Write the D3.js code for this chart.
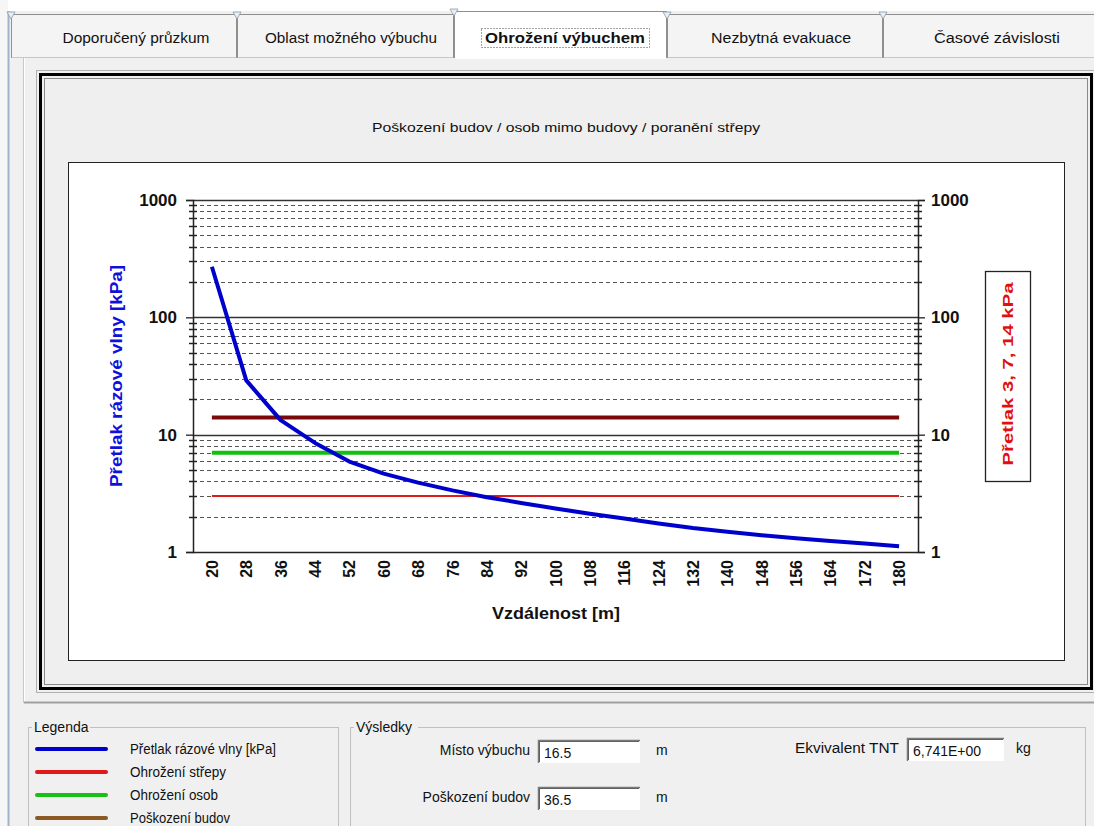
<!DOCTYPE html>
<html>
<head>
<meta charset="utf-8">
<script src="https://cdn.jsdelivr.net/npm/d3@7"></script>
<style>
  html, body { margin: 0; padding: 0; background: #f0f0f0; }
  svg { display: block; }
  .ui { font-family: "Liberation Sans", Arial, sans-serif; font-size: 14px; }
  .ax { font-family: "Liberation Sans", Arial, sans-serif; font-weight: bold; }
</style>
</head>
<body>
<svg id="chart" width="1094" height="826"></svg>
<script>
// ---------- data ----------
const distances = [20, 28, 36, 44, 52, 60, 68, 76, 84, 92, 100, 108, 116, 124, 132, 140, 148, 156, 164, 172, 180];
const overpressure = [270, 29, 13.3, 8.5, 5.9, 4.65, 3.9, 3.35, 2.93, 2.62, 2.35, 2.12, 1.93, 1.75, 1.60, 1.49, 1.39, 1.31, 1.24, 1.18, 1.12];
const thresholdValues = [3, 7, 14];
const thresholdNames = ["Ohrožení střepy", "Ohrožení osob", "Poškození budov"];
const yMajorTicks = [1, 10, 100, 1000];
const yMinorTicks = [2,3,4,5,6,7,8,9, 20,30,40,50,60,70,80,90, 200,300,400,500,600,700,800,900];
const tabLabels = ["Doporučený průzkum", "Oblast možného výbuchu", "Ohrožení výbuchem", "Nezbytná evakuace", "Časové závislosti"];
const legendLabels = ["Přetlak rázové vlny [kPa]", "Ohrožení střepy", "Ohrožení osob", "Poškození budov"];
const resultLabels = ["Místo výbuchu", "Poškození budov"];
const resultValues = ["16.5", "36.5"];
const resultUnits = ["m", "m"];
const tntLabel = "Ekvivalent TNT";
const tntValue = "6,741E+00";
const tntUnit = "kg";
const chartTitle = "Poškození budov / osob mimo budovy / poranění střepy";
const yTitle = "Přetlak rázové vlny [kPa]";
const y2Title = "Přetlak 3, 7, 14 kPa";
const xTitle = "Vzdálenost [m]";

// ---------- styles ----------
const thresholdColors = ["#dd1c1c", "#10c010", "#7a0a0a"];
const thresholdWidths = [2, 4, 4];
const legendColors = ["#0000cc", "#e01818", "#18c018", "#8b5a24"];

const svg = d3.select("#chart");

// ---------- window / dialog chrome ----------
svg.append("rect").attr("x", 0).attr("y", 0).attr("width", 1094).attr("height", 826).attr("fill", "#f0f0f0");
svg.append("rect").attr("x", 0).attr("y", 0).attr("width", 1094).attr("height", 11).attr("fill", "#ffffff");
svg.append("rect").attr("x", 0).attr("y", 0).attr("width", 8).attr("height", 826).attr("fill", "#f6f6f6");
svg.append("line").attr("x1", 8.5).attr("x2", 8.5).attr("y1", 11).attr("y2", 826).attr("stroke", "#9fb4cc").attr("stroke-width", 2);

// tab panel
svg.append("rect").attr("x", 24.5).attr("y", 57.5).attr("width", 1080).attr("height", 645)
  .attr("fill", "#f0f0f0").attr("stroke", "#ffffff").attr("stroke-width", 1);
svg.append("line").attr("x1", 24).attr("x2", 1094).attr("y1", 702.5).attr("y2", 702.5).attr("stroke", "#a0a0a0").attr("stroke-width", 2);
svg.append("line").attr("x1", 23.5).attr("x2", 23.5).attr("y1", 57).attr("y2", 703).attr("stroke", "#c8c8c8");
svg.append("line").attr("x1", 11).attr("x2", 1094).attr("y1", 57.5).attr("y2", 57.5).attr("stroke", "#9a9a9a");

// tabs
const tabEdges = [11, 237, 454, 667, 883, 1100];
const tabCenters = [136, 351, 565, 781, 997];
const tabTextW = [147, 172, 160, 140, 126];
const selTab = 2;
tabLabels.forEach((t, i) => {
  const x0 = tabEdges[i], x1 = tabEdges[i + 1];
  const sel = i === selTab;
  const top = sel ? 11 : 14;
  const g = svg.append("g");
  g.append("path")
    .attr("d", `M${x0 + 0.5},${sel ? 58 : 57.5} L${x0 + 0.5},${top + 0.5} L${x1 - 0.5},${top + 0.5} L${x1 - 0.5},${sel ? 58 : 57.5}`)
    .attr("fill", sel ? "#ffffff" : "#f4f4f4").attr("stroke", "#8f8f8f");
  if (sel) {
    g.append("rect").attr("x", x0 + 1).attr("y", 56).attr("width", x1 - x0 - 2).attr("height", 3).attr("fill", "#ffffff");
  }
  g.append("path").attr("d", `M${x0 - 4},${top - 2} L${x0 + 4},${top - 2} L${x0},${top + 5} Z`)
    .attr("fill", "#e8eef4").attr("stroke", "#8a9aaa").attr("stroke-width", 0.8);
  const txt = g.append("text").attr("class", "ui").attr("x", tabCenters[i]).attr("y", 43)
    .attr("text-anchor", "middle").style("font-size", "14px").style("fill", "#111")
    .attr("textLength", tabTextW[i]).attr("lengthAdjust", "spacingAndGlyphs").text(t);
  if (sel) {
    txt.style("font-weight", "bold");
    g.append("rect").attr("x", 481.5).attr("y", 28.5).attr("width", 168).attr("height", 19)
      .attr("fill", "none").attr("stroke", "#444").attr("stroke-dasharray", "1,2");
  }
});

// chart frame
svg.append("rect").attr("x", 36.5).attr("y", 70.5).attr("width", 1070).attr("height", 622).attr("fill", "none").attr("stroke", "#b0b0b0");
svg.append("rect").attr("x", 40.5).attr("y", 74.5).attr("width", 1051).attr("height", 614).attr("fill", "#efefef").attr("stroke", "#000").attr("stroke-width", 3);
svg.append("rect").attr("x", 44.5).attr("y", 78.5).attr("width", 1043).attr("height", 606).attr("fill", "none").attr("stroke", "#8a8a8a");
svg.append("rect").attr("x", 68.5).attr("y", 162.5).attr("width", 996).attr("height", 498).attr("fill", "#ffffff").attr("stroke", "#222");

// title
svg.append("text").attr("class", "ui").attr("x", 566).attr("y", 132).attr("text-anchor", "middle")
  .style("font-size", "12.5px").style("fill", "#111").attr("textLength", 388).attr("lengthAdjust", "spacingAndGlyphs").text(chartTitle);

// ---------- plot ----------
const L = 193, R = 918, T = 200, B = 552;
const x = d3.scalePoint().domain(distances).range([L, R]).padding(0.55);
const y = d3.scaleLog().domain([1, 1000]).range([B, T]);

const grid = svg.append("g");
grid.selectAll("line.minor").data(yMinorTicks).join("line").attr("class", "minor")
  .attr("x1", L).attr("x2", R).attr("y1", d => Math.round(y(d)) + 0.5).attr("y2", d => Math.round(y(d)) + 0.5)
  .attr("stroke", "#555").attr("stroke-width", 1).attr("stroke-dasharray", "4,3");
grid.selectAll("line.major").data([10, 100, 1000]).join("line").attr("class", "major")
  .attr("x1", L).attr("x2", R).attr("y1", d => Math.round(y(d)) + 0.5).attr("y2", d => Math.round(y(d)) + 0.5)
  .attr("stroke", "#333").attr("stroke-width", 1.3);

function styleYAxis(g) {
  g.select(".domain").attr("stroke", "#222").attr("stroke-width", 1.5);
  g.selectAll(".tick line").attr("stroke", "#222").attr("stroke-width", 1.3);
  g.selectAll(".tick text").attr("class", "ax").style("font-size", "17px").style("fill", "#111");
  g.selectAll("line.mt").data(yMinorTicks).join("line").attr("class", "mt")
    .attr("x1", -4).attr("x2", 4).attr("y1", d => Math.round(y(d)) + 0.5).attr("y2", d => Math.round(y(d)) + 0.5)
    .attr("stroke", "#222").attr("stroke-width", 1.5);
}
const gL = svg.append("g").attr("transform", `translate(${L},0)`)
  .call(d3.axisLeft(y).tickValues(yMajorTicks).tickSize(7).tickPadding(9).tickFormat(d3.format("d")));
styleYAxis(gL);
const gR = svg.append("g").attr("transform", `translate(${R},0)`)
  .call(d3.axisRight(y).tickValues(yMajorTicks).tickSize(7).tickPadding(6).tickFormat(d3.format("d")));
styleYAxis(gR);

// bottom axis
const gB = svg.append("g").attr("transform", `translate(0,${B})`).call(d3.axisBottom(x).tickSize(0).tickPadding(0));
gB.select(".domain").attr("d", `M${L},0.5H${R}`).attr("stroke", "#222").attr("stroke-width", 1.5);
gB.selectAll(".tick text").attr("class", "ax").style("font-size", "16px").style("fill", "#111")
  .attr("transform", "rotate(-90)").attr("text-anchor", "end").attr("x", -8).attr("y", 0).attr("dy", "0.35em");

// threshold lines
svg.append("g").selectAll("line").data(thresholdValues).join("line")
  .attr("x1", x(distances[0])).attr("x2", x(distances[distances.length - 1]))
  .attr("y1", d => y(d)).attr("y2", d => y(d))
  .attr("stroke", (d, i) => thresholdColors[i]).attr("stroke-width", (d, i) => thresholdWidths[i]);

// overpressure curve
const pts = distances.map((d, i) => [d, overpressure[i]]);
svg.append("path").datum(pts)
  .attr("d", d3.line().x(d => x(d[0])).y(d => y(d[1])))
  .attr("fill", "none").attr("stroke", "#0000cc").attr("stroke-width", 4).attr("stroke-linejoin", "round");

// axis titles
svg.append("text").attr("class", "ax").attr("transform", "translate(122,376) rotate(-90)")
  .attr("text-anchor", "middle").style("font-size", "16px").style("fill", "#1010dd")
  .attr("textLength", 222).attr("lengthAdjust", "spacingAndGlyphs").text(yTitle);
svg.append("text").attr("class", "ax").attr("x", 556).attr("y", 619).attr("text-anchor", "middle")
  .style("font-size", "17px").style("fill", "#111").attr("textLength", 128).attr("lengthAdjust", "spacingAndGlyphs").text(xTitle);

// right legend box
svg.append("rect").attr("x", 985.5).attr("y", 271.5).attr("width", 45).attr("height", 210)
  .attr("fill", "#fff").attr("stroke", "#222").attr("stroke-width", 1.3);
svg.append("text").attr("class", "ax").attr("transform", "translate(1013,374) rotate(-90)")
  .attr("text-anchor", "middle").style("font-size", "15px").style("fill", "#e01010")
  .attr("textLength", 183).attr("lengthAdjust", "spacingAndGlyphs").text(y2Title);

// ---------- group boxes ----------
function groupBox(x0, y0, w, h, label, labelW) {
  const g = svg.append("g");
  g.append("rect").attr("x", x0 + 0.5).attr("y", y0 + 0.5).attr("width", w).attr("height", h)
    .attr("fill", "none").attr("stroke", "#c0c0c0");
  g.append("rect").attr("x", x0 + 4).attr("y", y0 - 8).attr("width", labelW).attr("height", 16).attr("fill", "#f0f0f0");
  g.append("text").attr("class", "ui").attr("x", x0 + 6).attr("y", y0 + 5).style("font-size", "14px").style("fill", "#111").text(label);
}
groupBox(28, 727, 310, 120, "Legenda", 58);
groupBox(350, 727, 735, 120, "Výsledky", 64);

// legend entries
const legY = [749, 772, 795, 818];
const legTextW = [146, 96, 88, 100];
legendLabels.forEach((t, i) => {
  svg.append("line").attr("x1", 37).attr("x2", 106).attr("y1", legY[i]).attr("y2", legY[i])
    .attr("stroke", legendColors[i]).attr("stroke-width", 4).attr("stroke-linecap", "round");
  svg.append("text").attr("class", "ui").attr("x", 130).attr("y", legY[i] + 5).style("font-size", "14px").style("fill", "#111")
    .attr("textLength", legTextW[i]).attr("lengthAdjust", "spacingAndGlyphs").text(t);
});

// result fields
function textBox(x0, y0, w, h, val) {
  svg.append("rect").attr("x", x0).attr("y", y0).attr("width", w).attr("height", h).attr("fill", "#fff");
  svg.append("path").attr("d", `M${x0 + 0.5},${y0 + h} V${y0 + 0.5} H${x0 + w}`).attr("fill", "none").attr("stroke", "#7a7a7a").attr("stroke-width", 1.5);
  svg.append("path").attr("d", `M${x0 + 1.5},${y0 + h - 1} V${y0 + 1.5} H${x0 + w - 1}`).attr("fill", "none").attr("stroke", "#404040").attr("stroke-width", 0.8);
  svg.append("text").attr("class", "ui").attr("x", x0 + 6).attr("y", y0 + h - 5).style("font-size", "14px").style("fill", "#111").text(val);
}
const resY = [740, 787];
resultLabels.forEach((t, i) => {
  svg.append("text").attr("class", "ui").attr("x", 530).attr("y", resY[i] + 15).attr("text-anchor", "end")
    .style("font-size", "14px").style("fill", "#111").text(t);
  textBox(538, resY[i], 102, 23, resultValues[i]);
  svg.append("text").attr("class", "ui").attr("x", 656).attr("y", resY[i] + 15).style("font-size", "14px").style("fill", "#111").text(resultUnits[i]);
});
svg.append("text").attr("class", "ui").attr("x", 899).attr("y", 753).attr("text-anchor", "end")
  .style("font-size", "14px").style("fill", "#111").attr("textLength", 104).attr("lengthAdjust", "spacingAndGlyphs").text(tntLabel);
textBox(907, 738, 97, 23, tntValue);
svg.append("text").attr("class", "ui").attr("x", 1016).attr("y", 753).style("font-size", "14px").style("fill", "#111").text(tntUnit);
</script>
</body>
</html>
